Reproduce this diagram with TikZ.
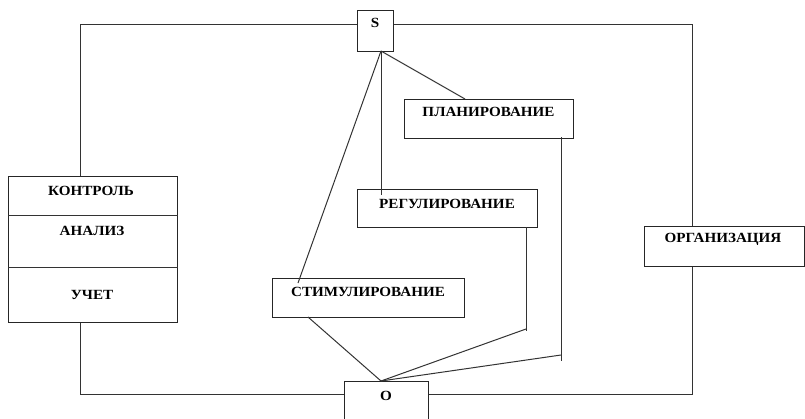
\documentclass[tikz,border=0pt]{standalone}
\usepackage{fontspec}
\setmainfont{Liberation Serif}
\newcommand\wlbl[1]{\scalebox{1.08}[1]{#1}}
\begin{document}
\begin{tikzpicture}[x=1pt,y=-1pt,
  box/.style={draw=black!85, line width=1pt, fill=white, inner sep=0, anchor=north west},
  lbl/.style={font=\bfseries\fontsize{14}{16}\selectfont, anchor=base, inner sep=0},
  conn/.style={draw=black!80, line width=1pt}]
\useasboundingbox (0,0) rectangle (805,418);
% frame lines
\coordinate (tl) at (80,24);
\coordinate (tr) at (692,24);
\coordinate (bl) at (80,394);
\coordinate (br) at (692,394);
% boxes
\node[box, minimum width=36, minimum height=41] (S) at (357,10) {};
\node[box, minimum width=169, minimum height=39] (plan) at (404,99) {};
\node[box, minimum width=180, minimum height=38] (reg) at (357,189) {};
\node[box, minimum width=192, minimum height=39] (stim) at (272,278) {};
\node[box, minimum width=160, minimum height=40] (org) at (644,226) {};
\node[box, minimum width=169, minimum height=146] (left) at (8,176) {};
\node[box, minimum width=84, minimum height=39] (O) at (344,381) {};
\draw[conn] (left.west |- 0,215) -- (left.east |- 0,215);
\draw[conn] (left.west |- 0,267) -- (left.east |- 0,267);
% labels
\node[lbl] (tS) at (375,27) {\wlbl{S}};
\node[lbl] (tplan) at (488.5,116.5) {\wlbl{ПЛАНИРОВАНИЕ}};
\node[lbl] (treg) at (447,208) {\wlbl{РЕГУЛИРОВАНИЕ}};
\node[lbl] (tstim) at (368,296.5) {\wlbl{СТИМУЛИРОВАНИЕ}};
\node[lbl] (torg) at (723,242.5) {\wlbl{ОРГАНИЗАЦИЯ}};
\node[lbl] (tk) at (91,195.5) {\wlbl{КОНТРОЛЬ}};
\node[lbl] (ta) at (92,235.5) {\wlbl{АНАЛИЗ}};
\node[lbl] (tu) at (92,299.5) {\wlbl{УЧЕТ}};
\node[lbl] (tO) at (386,400) {\wlbl{О}};
% frame connectors
\draw[conn] (S.west |- tl) -- (tl) -- (tl |- left.north);
\draw[conn] (S.east |- tr) -- (tr) -- (tr |- org.north);
\draw[conn] (tr |- org.south) -- (br) -- (O.east |- br);
\draw[conn] (O.west |- bl) -- (bl) -- (bl |- left.south);
% inner connectors
\coordinate (Sb) at (381,51);
\coordinate (Ot) at (381,381);
\coordinate (pIn) at (465,99);
\coordinate (rIn) at (381,195);
\coordinate (sIn) at (298,283);
\coordinate (sOut) at (308,317);
\coordinate (rOut) at (526,227);
\coordinate (rEnd) at (526,331);
\coordinate (rTurn) at (526,329);
\coordinate (pOut) at (561,137);
\coordinate (pEnd) at (561,361);
\coordinate (pTurn) at (561,355);
\draw[conn] (Sb) -- (pIn);
\draw[conn] (Sb) -- (rIn);
\draw[conn] (Sb) -- (sIn);
\draw[conn] (sOut) -- (Ot);
\draw[conn] (rOut) -- (rEnd);
\draw[conn] (rTurn) -- (Ot);
\draw[conn] (pOut) -- (pEnd);
\draw[conn] (pTurn) -- (Ot);
\end{tikzpicture}
\end{document}
